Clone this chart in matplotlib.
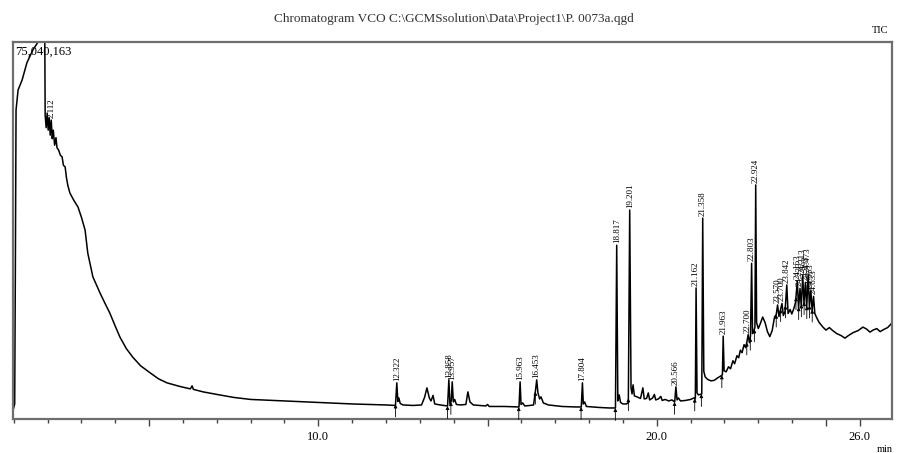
import numpy as np
import matplotlib.pyplot as plt
from matplotlib.ticker import FixedLocator

plt.rcParams['font.family'] = ['Liberation Serif', 'DejaVu Serif']

# TIC trace: retention time (min) / intensity (millions of counts)
time_min = [
    1.00, 1.03, 1.05, 1.07, 1.13, 1.25, 1.39, 1.57, 1.72, 1.92,
    1.93, 1.96, 1.99, 2.02, 2.05, 2.08, 2.11, 2.14, 2.17, 2.21,
    2.25, 2.28, 2.33, 2.38, 2.43, 2.47, 2.52, 2.56, 2.60, 2.66,
    2.78, 2.90, 3.00, 3.11, 3.19, 3.34, 3.55, 3.70, 3.84, 4.00,
    4.14, 4.33, 4.52, 4.75, 5.03, 5.28, 5.53, 5.90, 6.22, 6.27,
    6.31, 6.60, 7.00, 7.50, 8.00, 9.00, 10.00, 11.00, 12.00, 12.28,
    12.32, 12.35, 12.38, 12.42, 12.50, 12.80, 13.05, 13.14, 13.21, 13.28,
    13.33, 13.39, 13.44, 13.60, 13.82, 13.858, 13.89, 13.93, 13.957, 13.99,
    14.03, 14.08, 14.20, 14.36, 14.42, 14.48, 14.58, 14.95, 15.00, 15.05,
    15.50, 15.93, 15.963, 15.99, 16.04, 16.10, 16.25, 16.36, 16.42, 16.453,
    16.49, 16.54, 16.58, 16.65, 16.80, 17.20, 17.60, 17.77, 17.804, 17.83,
    17.87, 17.92, 18.30, 18.60, 18.78, 18.817, 18.85, 18.89, 18.93, 19.00,
    19.10, 19.16, 19.201, 19.24, 19.27, 19.30, 19.34, 19.42, 19.52, 19.59,
    19.63, 19.70, 19.75, 19.79, 19.88, 19.93, 19.97, 20.05, 20.12, 20.16,
    20.25, 20.35, 20.45, 20.53, 20.566, 20.60, 20.64, 20.70, 20.85, 21.00,
    21.10, 21.14, 21.162, 21.19, 21.23, 21.33, 21.358, 21.39, 21.43, 21.50,
    21.60, 21.70, 21.80, 21.90, 21.94, 21.963, 21.99, 22.05, 22.12, 22.18,
    22.25, 22.30, 22.37, 22.42, 22.47, 22.52, 22.58, 22.63, 22.67, 22.700,
    22.74, 22.77, 22.803, 22.83, 22.87, 22.90, 22.924, 22.95, 23.00, 23.06,
    23.13, 23.20, 23.27, 23.34, 23.41, 23.48, 23.53, 23.570, 23.61, 23.65,
    23.700, 23.74, 23.79, 23.842, 23.88, 23.94, 23.99, 24.05, 24.10, 24.153,
    24.19, 24.233, 24.27, 24.313, 24.35, 24.393, 24.43, 24.473, 24.51, 24.553,
    24.59, 24.633, 24.67, 24.73, 24.80, 24.91, 25.00, 25.10, 25.20, 25.32,
    25.45, 25.56, 25.66, 25.80, 25.95, 26.09, 26.20, 26.30, 26.39, 26.50,
    26.60, 26.70, 26.82, 26.92, 27.00,
]
tic_mil = [
    2.2, 3.0, 30.0, 61.5, 65.5, 67.5, 70.9, 73.5, 75.04, 75.04,
    60.5, 58.0, 60.9, 57.5, 60.0, 56.5, 59.5, 55.8, 57.5, 54.5,
    56.0, 54.0, 53.5, 52.5, 52.2, 50.5, 50.2, 48.0, 46.5, 45.0,
    43.5, 42.2, 40.2, 37.6, 33.0, 28.3, 25.1, 23.0, 21.1, 18.5,
    16.3, 14.0, 12.3, 10.6, 9.2, 8.0, 7.2, 6.5, 6.0, 6.6,
    5.9, 5.4, 4.9, 4.3, 3.9, 3.6, 3.3, 3.0, 2.8, 2.7,
    7.2, 3.5, 4.2, 3.1, 2.8, 2.7, 2.8, 4.3, 6.2, 4.2,
    3.6, 4.7, 3.0, 2.8, 2.6, 7.8, 3.0, 3.6, 7.4, 3.4,
    3.9, 2.9, 2.8, 2.9, 5.4, 3.4, 2.8, 2.6, 2.9, 2.5,
    2.5, 2.4, 7.4, 2.9, 3.2, 2.6, 2.7, 2.8, 5.8, 7.8,
    5.2, 4.0, 4.4, 3.2, 2.8, 2.5, 2.4, 2.4, 7.2, 3.0,
    3.4, 2.5, 2.3, 2.2, 2.2, 34.6, 3.6, 4.8, 3.3, 3.0,
    3.0, 3.2, 41.6, 6.2, 5.0, 6.8, 4.6, 4.4, 4.1, 6.2,
    4.0, 4.1, 5.2, 3.8, 4.2, 4.9, 3.8, 4.0, 4.5, 3.7,
    3.9, 3.6, 3.8, 3.4, 6.4, 3.8, 4.2, 3.6, 3.7, 3.9,
    4.2, 4.0, 26.1, 5.2, 4.8, 5.0, 40.0, 9.5, 8.4, 7.9,
    7.6, 7.7, 8.2, 8.6, 8.8, 16.5, 9.6, 9.4, 10.4, 10.0,
    11.6, 11.0, 12.6, 12.2, 13.7, 13.2, 14.8, 14.2, 15.6, 16.8,
    15.2, 16.5, 31.0, 17.0, 17.6, 18.2, 46.6, 19.2, 18.0, 19.0,
    20.3, 19.2, 17.4, 16.4, 17.6, 20.3, 20.8, 22.7, 20.4, 21.6,
    23.0, 20.6, 21.4, 26.7, 21.0, 21.8, 20.9, 22.0, 23.2, 27.5,
    22.0, 26.0, 22.4, 28.6, 23.0, 27.2, 22.0, 28.8, 22.4, 25.6,
    21.6, 24.4, 21.0, 20.1, 19.2, 18.3, 17.7, 18.2, 17.6, 17.0,
    16.6, 16.1, 16.6, 17.2, 17.6, 18.3, 17.9, 17.3, 17.7, 18.0,
    17.4, 17.8, 18.2, 18.9, 19.9,
]

peak_labels = [
    '2.112', '12.322', '13.858', '13.957', '15.963', '16.453', '17.804',
    '18.817', '19.201', '20.566', '21.162', '21.358', '21.963', '22.700',
    '22.803', '22.924', '23.570', '23.700', '23.842', '24.153', '24.233',
    '24.313', '24.393', '24.473', '24.553', '24.633',
]

major_ticks = [5, 10, 15, 20, 25, 26]
xtick_labels = ['', '10.0', '', '20.0', '', '26.0']
minor_ticks = list(range(1, 28))

title = 'Chromatogram VCO C:\\GCMSsolution\\Data\\Project1\\P. 0073a.qgd'
max_count = '75,040,163'

t = np.array(time_min)
y = np.array(tic_mil)

fig = plt.figure(figsize=(8.98, 4.53), dpi=100)
ax = fig.add_axes([0.0141, 0.075, 0.9792, 0.8322])

ax.plot(t, y, color='black', lw=1.1)
ax.set_xlim(0.97, 26.95)
ax.set_ylim(0, 75.04)

# retention time labels above peaks
for lab in peak_labels:
    pt = float(lab)
    near = (t >= pt - 0.02) & (t <= pt + 0.02)
    top = y[near].max()
    ax.annotate(lab, (pt, top), xytext=(0, 1.5), textcoords='offset points',
                rotation=90, ha='center', va='bottom', fontsize=6.5)

# peak start markers
for lab in peak_labels[1:]:
    ts = float(lab) - 0.04
    yv = np.interp(ts, t, y)
    ax.annotate('', xy=(ts, yv), xytext=(0, -9), textcoords='offset points',
                arrowprops=dict(arrowstyle='-|>', lw=0.6, color='black',
                                mutation_scale=5, shrinkA=0, shrinkB=0),
                annotation_clip=False)

ax.xaxis.set_major_locator(FixedLocator(major_ticks))
ax.set_xticklabels(xtick_labels)
ax.xaxis.set_minor_locator(FixedLocator(minor_ticks))
ax.tick_params(axis='x', which='major', length=5, width=1, direction='out',
               labelsize=9, pad=3.5, color='#444')
ax.tick_params(axis='x', which='minor', length=3, width=1, direction='out',
               color='#444')
ax.set_yticks([])

for sp in ax.spines.values():
    sp.set_color('#6e6e6e')
    sp.set_linewidth(1.6)

ax.text(0.003, 0.99, max_count, transform=ax.transAxes, ha='left', va='top',
        fontsize=9)
fig.text(0.505, 0.958, title, ha='center', va='center', fontsize=9.5,
         color='#333333')
fig.text(0.989, 0.9316, 'TIC', ha='right', va='center', fontsize=7.5)
fig.text(0.9855, 0.018, 'min', ha='center', va='top', fontsize=7.5)

fig.savefig('out.png', dpi=100)
